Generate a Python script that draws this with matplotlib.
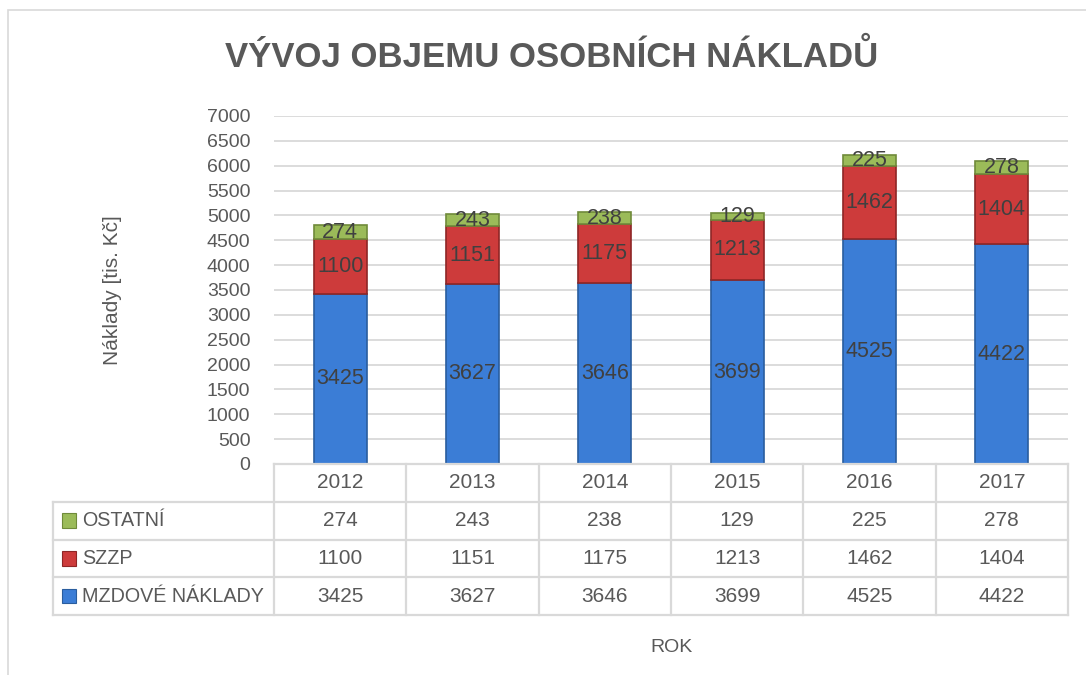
import matplotlib.pyplot as plt
from matplotlib.patches import Rectangle

plt.rcParams['font.family'] = ['Liberation Sans', 'DejaVu Sans']

years = ["2012", "2013", "2014", "2015", "2016", "2017"]
mzdove = [3425, 3627, 3646, 3699, 4525, 4422]
szzp = [1100, 1151, 1175, 1213, 1462, 1404]
ostatni = [274, 243, 238, 129, 225, 278]

series = [
    ("MZDOVÉ NÁKLADY", mzdove, "#3b7dd6", "#2a5d9e"),
    ("SZZP", szzp, "#cd3b3b", "#8e2626"),
    ("OSTATNÍ", ostatni, "#9bbb59", "#6f8a3a"),
]

TXT = "#595959"
GRID = "#d9d9d9"

W, H = 1086, 675
fig = plt.figure(figsize=(W / 100, H / 100), dpi=100)

# pixel layout
left, right = 274, 1068
top, bottom = 116, 464
tab_bottom = 615
lab_left = 53

ax = fig.add_axes([left / W, 1 - bottom / H, (right - left) / W, (bottom - top) / H])
x = range(len(years))
base = [0] * len(years)
for name, vals, col, edge in series:
    bars = ax.bar(x, vals, bottom=base, width=0.4, color=col, edgecolor=edge, linewidth=1.2, zorder=3)
    ax.bar_label(bars, labels=[str(v) for v in vals], label_type="center", color="#404040", fontsize=15.5, zorder=4)
    base = [b + v for b, v in zip(base, vals)]

ax.set_xlim(-0.5, len(years) - 0.5)
ax.set_ylim(0, 7000)
ax.set_yticks(range(0, 7001, 500))
ax.set_xticks([])
ax.tick_params(axis="y", length=0, pad=17, labelsize=14, labelcolor=TXT)
ax.grid(axis="y", color=GRID, linewidth=1.3, zorder=0)
for s in ax.spines.values():
    s.set_visible(False)
ax.set_ylabel("Náklady [tis. Kč]", fontsize=15, color=TXT)
ax.yaxis.set_label_coords((122 - left) / (right - left), 0.5)

# data table below the plot
tab = fig.add_axes([left / W, 1 - tab_bottom / H, (right - left) / W, (tab_bottom - bottom) / H])
tab.set_xlim(-0.5, len(years) - 0.5)
tab.set_ylim(4, 0)
tab.axis("off")
colw = (right - left) / len(years)
xl = -0.5 - (left - lab_left) / colw
lk = dict(color=GRID, linewidth=1.6, clip_on=False, solid_capstyle="projecting")
tab.plot([-0.5, len(years) - 0.5], [0, 0], **lk)
for r in range(1, 5):
    tab.plot([xl, len(years) - 0.5], [r, r], **lk)
tab.plot([xl, xl], [1, 4], **lk)
for c in range(len(years) + 1):
    tab.plot([c - 0.5, c - 0.5], [0, 4], **lk)
for i, yr in enumerate(years):
    tab.text(i, 0.5, yr, ha="center", va="center", fontsize=15, color=TXT)
for r, (name, vals, col, edge) in enumerate(series[::-1], start=1):
    for i, v in enumerate(vals):
        tab.text(i, r + 0.5, str(v), ha="center", va="center", fontsize=15, color=TXT)
    mx = xl + 9 / colw
    tab.add_patch(Rectangle((mx, r + 0.5 - 0.19), 14 / colw, 0.38, facecolor=col, edgecolor=edge,
                            linewidth=0.8, clip_on=False))
    tab.text(xl + 29 / colw, r + 0.5, name, ha="left", va="center", fontsize=14.2, color=TXT)

fig.text(552 / W, 1 - 57 / H, "VÝVOJ OBJEMU OSOBNÍCH NÁKLADŮ", ha="center", va="center",
         fontsize=25, fontweight="bold", color=TXT)
fig.text(672 / W, 1 - 648 / H, "ROK", ha="center", va="center", fontsize=14, color=TXT)

fig.patches.append(Rectangle((8 / W, -0.05), 1.05, 1 - 10 / H + 0.05, transform=fig.transFigure,
                             facecolor="none", edgecolor=GRID, linewidth=1.2))

fig.savefig("out.png", dpi=100)
